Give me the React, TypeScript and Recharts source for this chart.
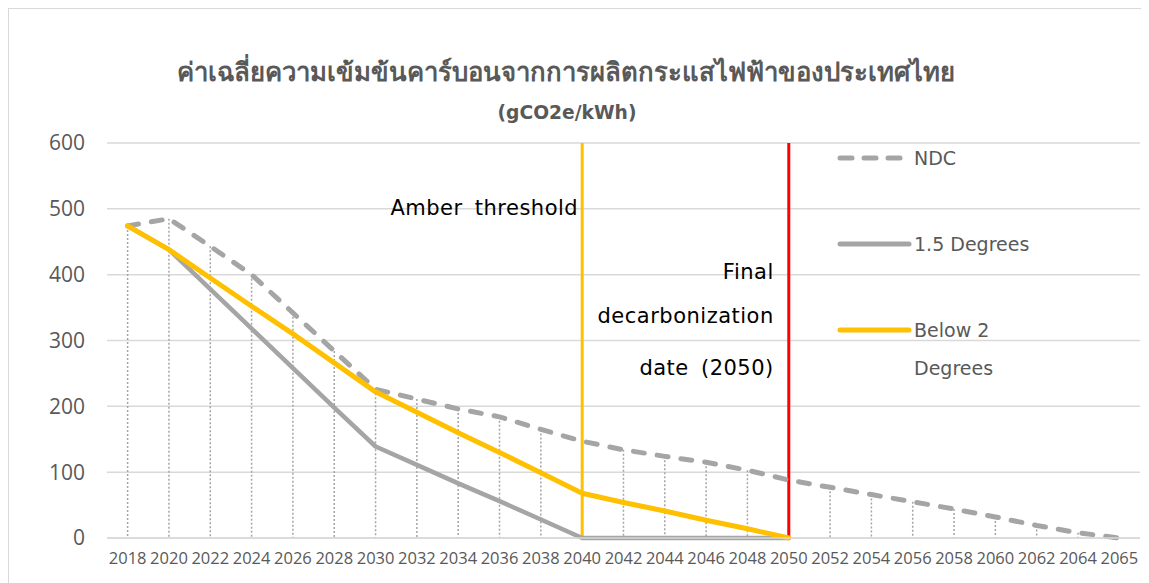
import { Bar, CartesianGrid, ComposedChart, Line, ReferenceLine, XAxis, YAxis } from 'recharts'

const years = [
  '2018', '2020', '2022', '2024', '2026', '2028', '2030', '2032', '2034', '2036', '2038', '2040', '2042',
  '2044', '2046', '2048', '2050', '2052', '2054', '2056', '2058', '2060', '2062', '2064', '2065',
]
const ndc = [474, 485, 443, 400, 342, 284, 226, 211, 196, 184, 165, 147, 134, 124, 115, 103, 88, 77, 66, 55, 44, 32, 19, 8, 0]
const deg15 = [474, 438, 378, 318, 258, 198, 139, 111, 83, 56, 28, 0, 0, 0, 0, 0, 0]
const below2 = [474, 438, 395, 352, 310, 266, 222, 191, 160, 130, 99, 68, 54, 41, 27, 14, 0]
const yTicks = [0, 100, 200, 300, 400, 500, 600]

const title = 'ค่าเฉลี่ยความเข้มข้นคาร์บอนจากการผลิตกระแสไฟฟ้าของประเทศไทย'
const subtitle = '(gCO2e/kWh)'

const data = years.map((year, i) => ({
  year,
  ndc: ndc[i],
  deg15: deg15[i] ?? null,
  below2: below2[i] ?? null,
}))

const GRAY = '#a5a5a5'
const AMBER = '#ffc000'
const TEXT = '#595959'
const annoFont = '"DejaVu Sans", sans-serif'

// dotted drop line from the NDC point down to the axis
const DropLine = (props: any) => {
  const { x, y, width, height } = props
  if (!height) return null
  const cx = x + width / 2
  return <line x1={cx} y1={y} x2={cx} y2={y + height} stroke={GRAY} strokeWidth={1.5} strokeDasharray="2 2" />
}

const annoStyle = { letterSpacing: 0.5, wordSpacing: 5 }

const AmberLabel = ({ viewBox }: any) => (
  <text x={viewBox.x - 4} y={viewBox.y + 65} textAnchor="end" dominantBaseline="central" fontFamily={annoFont} fontSize={21} fill="#000" style={annoStyle}>
    Amber threshold
  </text>
)

const FinalLabel = ({ viewBox }: any) => {
  const lines = [
    ['Final', 129],
    ['decarbonization', 173],
    ['date (2050)', 225],
  ] as const
  return (
    <g>
      {lines.map(([t, dy]) => (
        <text key={t} x={viewBox.x - 15} y={viewBox.y + dy} textAnchor="end" dominantBaseline="central" fontFamily={annoFont} fontSize={21} fill="#000" style={annoStyle}>
          {t}
        </text>
      ))}
    </g>
  )
}

const legendItems = [
  { name: 'NDC', color: GRAY, dash: '11 13', lines: ['NDC'] },
  { name: '1.5 Degrees', color: GRAY, dash: undefined, lines: ['1.5 Degrees'] },
  { name: 'Below 2 Degrees', color: AMBER, dash: undefined, lines: ['Below 2', 'Degrees'] },
]

export default function App() {
  return (
    <div
      style={{
        position: 'relative',
        width: 1142,
        height: 576,
        marginTop: -1,
        marginLeft: -1,
        borderTop: '2px solid #d9d9d9',
        borderLeft: '2px solid #d9d9d9',
        background: '#fff',
      }}
    >
      <div
        style={{
          position: 'absolute',
          left: -1,
          width: 1116,
          top: 45,
          textAlign: 'center',
          fontFamily: '"Noto Sans", "DejaVu Sans", sans-serif',
          fontWeight: 700,
          fontSize: 25.7,
          color: TEXT,
          lineHeight: '36px',
        }}
      >
        {title}
      </div>
      <div
        style={{
          position: 'absolute',
          left: -1,
          width: 1118,
          top: 91,
          textAlign: 'center',
          fontFamily: '"DejaVu Sans", sans-serif',
          fontWeight: 700,
          fontSize: 18.7,
          color: TEXT,
          lineHeight: '26px',
        }}
      >
        {subtitle}
      </div>

      <div style={{ position: 'absolute', left: -1, top: -1 }}>
        <ComposedChart width={1142} height={575} data={data} margin={{ top: 135, right: 10, bottom: 0, left: 0 }}>
          <CartesianGrid vertical={false} stroke="#d9d9d9" strokeWidth={1.5} />
          <XAxis
            dataKey="year"
            interval={0}
            tickLine={false}
            axisLine={{ stroke: '#d9d9d9', strokeWidth: 1.5 }}
            tickMargin={8}
            height={45}
            tick={{ fontSize: 16.5, fill: TEXT, fontFamily: '"Open Sans", sans-serif' }}
          />
          <YAxis
            domain={[0, 600]}
            ticks={yTicks}
            axisLine={false}
            tickLine={false}
            width={99}
            tickMargin={16}
            tick={{ fontSize: 21, fill: TEXT, fontFamily: '"Open Sans", sans-serif' }}
          />
          <Bar dataKey="ndc" shape={DropLine} isAnimationActive={false} />
          <ReferenceLine x="2040" stroke={AMBER} strokeWidth={3} label={<AmberLabel />} />
          <ReferenceLine x="2050" stroke="#ff0000" strokeWidth={3} label={<FinalLabel />} />
          <Line
            dataKey="ndc"
            stroke={GRAY}
            strokeWidth={5}
            strokeDasharray="11 13"
            strokeLinecap="round"
            dot={false}
            isAnimationActive={false}
          />
          <Line
            dataKey="deg15"
            stroke={GRAY}
            strokeWidth={4.5}
            strokeLinecap="round"
            strokeLinejoin="round"
            dot={false}
            isAnimationActive={false}
          />
          <Line
            dataKey="below2"
            stroke={AMBER}
            strokeWidth={5}
            strokeLinecap="round"
            strokeLinejoin="round"
            dot={false}
            isAnimationActive={false}
          />
        </ComposedChart>
      </div>

      <div style={{ position: 'absolute', left: 828, top: 130, fontFamily: annoFont, fontSize: 19, color: TEXT }}>
        {legendItems.map((it) => (
          <div key={it.name} style={{ display: 'flex', height: 86, alignItems: 'flex-start' }}>
            <svg width={76} height={38} style={{ flex: 'none' }}>
              <line
                x1={3}
                y1={19}
                x2={it.dash ? 68 : 72}
                y2={19}
                stroke={it.color}
                strokeWidth={5}
                strokeLinecap="round"
                strokeDasharray={it.dash ? '12 12' : undefined}
              />
            </svg>
            <div style={{ lineHeight: '38px', marginLeft: 1 }}>
              {it.lines.map((l) => (
                <div key={l}>{l}</div>
              ))}
            </div>
          </div>
        ))}
      </div>
    </div>
  )
}
